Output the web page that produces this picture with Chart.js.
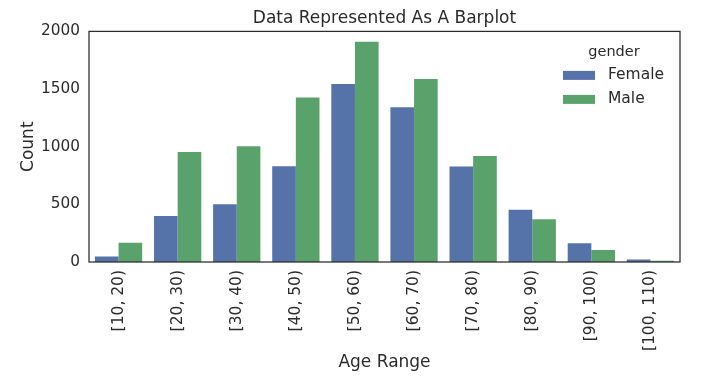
<!DOCTYPE html>
<html>
<head>
<meta charset="utf-8">
<script src="https://cdn.jsdelivr.net/npm/chart.js@4.4.0/dist/chart.umd.min.js"></script>
<style>
    html, body { margin: 0; padding: 0; background: #fff; }
    #wrap { width: 720px; height: 380px; }
</style>
</head>
<body>
<div id="wrap"><canvas id="barChart" width="720" height="380"></canvas></div>
<script>
// Yaş aralıkları ve cinsiyete göre sayılar
const ageRanges = ['[10, 20)', '[20, 30)', '[30, 40)', '[40, 50)', '[50, 60)',
                   '[60, 70)', '[70, 80)', '[80, 90)', '[90, 100)', '[100, 110)'];
const femaleCounts = [48, 398, 500, 831, 1544, 1342, 828, 453, 162, 22];
const maleCounts = [168, 955, 1004, 1426, 1911, 1587, 920, 370, 104, 11];
const yTicks = [0, 500, 1000, 1500, 2000];

const textColor = '#2b2b2b';
const fontFamily = "'DejaVu Sans', sans-serif";

// Çerçeve: grafik alanının dört kenarı
const framePlugin = {
    id: 'frame',
    afterDatasetsDraw(chart) {
        const a = chart.chartArea;
        const ctx = chart.ctx;
        ctx.save();
        ctx.strokeStyle = textColor;
        ctx.lineWidth = 1.25;
        ctx.strokeRect(a.left, a.top, a.right - a.left, a.bottom - a.top);
        ctx.restore();
    }
};

// Grafik içinde sağ üstte lejant
const insideLegend = {
    id: 'insideLegend',
    afterDraw(chart) {
        const ctx = chart.ctx;
        const a = chart.chartArea;
        const boxX = a.right - 117;
        ctx.save();
        ctx.fillStyle = textColor;
        ctx.textBaseline = 'middle';
        ctx.textAlign = 'center';
        ctx.font = '14.5px ' + fontFamily;
        ctx.fillText('gender', boxX + 51, a.top + 21);
        chart.data.datasets.forEach((ds, i) => {
            const cy = a.top + 44 + i * 24;
            ctx.fillStyle = ds.backgroundColor;
            ctx.fillRect(boxX, cy - 4.5, 32, 9);
            ctx.fillStyle = textColor;
            ctx.textAlign = 'left';
            ctx.font = '15.5px ' + fontFamily;
            ctx.fillText(ds.label, boxX + 45, cy);
        });
        ctx.restore();
    }
};

const barChart = new Chart(
    document.getElementById('barChart'),
    {
        type: 'bar',
        data: {
            labels: ageRanges,
            datasets: [{
                label: 'Female',
                data: femaleCounts,
                backgroundColor: '#5573A8',
                barPercentage: 1.0,
                categoryPercentage: 0.8
            }, {
                label: 'Male',
                data: maleCounts,
                backgroundColor: '#59A26C',
                barPercentage: 1.0,
                categoryPercentage: 0.8
            }]
        },
        options: {
            responsive: false,
            animation: false,
            layout: {
                padding: { left: 0, right: 40, top: 0, bottom: 0 }
            },
            plugins: {
                legend: { display: false },
                tooltip: { enabled: false },
                title: {
                    display: true,
                    text: 'Data Represented As A Barplot',
                    color: textColor,
                    fullSize: false,
                    font: { family: fontFamily, size: 17, weight: 'normal' },
                    padding: { top: 8, bottom: 3 }
                }
            },
            scales: {
                x: {
                    grid: { display: false, drawTicks: false },
                    border: { display: false },
                    ticks: {
                        color: textColor,
                        font: { family: fontFamily, size: 15.5 },
                        minRotation: 90,
                        maxRotation: 90,
                        padding: 8,
                        autoSkip: false
                    },
                    title: {
                        display: true,
                        text: 'Age Range',
                        color: textColor,
                        font: { family: fontFamily, size: 17 },
                        padding: { top: 0, bottom: 7 }
                    },
                    afterFit(scale) {
                        scale.height = 118;
                    }
                },
                y: {
                    min: 0,
                    max: 2000,
                    grid: { display: false, drawTicks: false },
                    border: { display: false },
                    afterBuildTicks(scale) {
                        scale.ticks = yTicks.map(v => ({ value: v }));
                    },
                    ticks: {
                        color: textColor,
                        font: { family: fontFamily, size: 15.3 },
                        padding: 9,
                        callback: v => String(v)
                    },
                    title: {
                        display: true,
                        text: 'Count',
                        color: textColor,
                        font: { family: fontFamily, size: 17 },
                        padding: { top: 18, bottom: 0 }
                    },
                    afterFit(scale) {
                        scale.width = 89;
                    }
                }
            }
        },
        plugins: [framePlugin, insideLegend]
    }
);
</script>
</body>
</html>
